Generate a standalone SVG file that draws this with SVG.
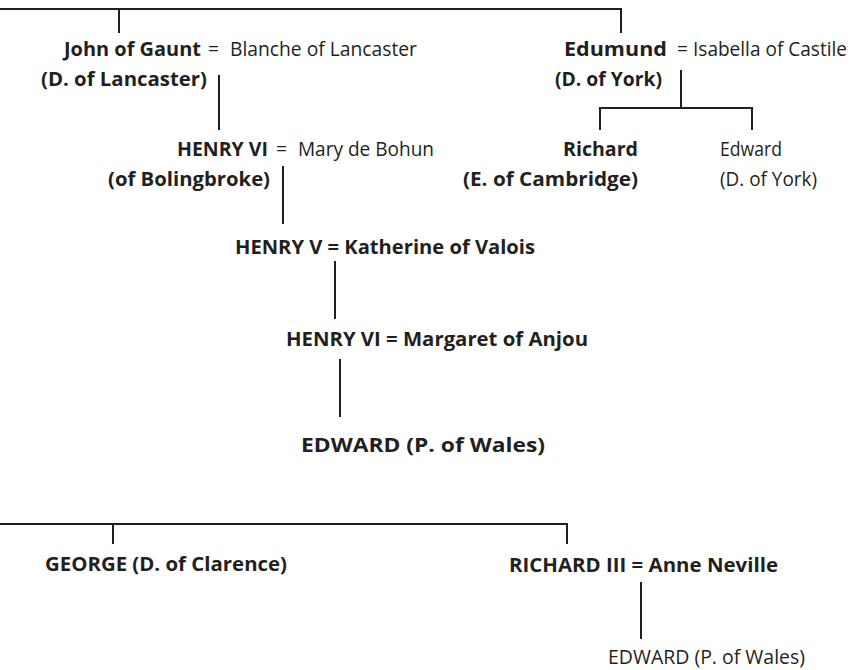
<svg xmlns="http://www.w3.org/2000/svg" width="855" height="670" viewBox="0 0 855 670">
<style>
text{font-family:"Open Sans","Liberation Sans",sans-serif;font-size:20px;fill:#231f20}
.b{font-weight:bold}
.r{font-weight:normal}
.ln{stroke:#231f20;stroke-width:2;fill:none}
</style>
<rect width="855" height="670" fill="#fff"/>
<g id="connectors" class="ln">
<path d="M0 9H621V33M119 9V33"/>
<path d="M219 75V130"/>
<path d="M681 70V108M600 130V108H752V130"/>
<path d="M283 166V224"/>
<path d="M335 261V319"/>
<path d="M340 359V417"/>
<path d="M0 524H567V544M113 524V544"/>
<path d="M641 582V639"/>
</g>
<g id="john">
<text class="b" x="64" y="56" textLength="137" lengthAdjust="spacingAndGlyphs">John of Gaunt</text>
<text class="r" x="208" y="56" textLength="11" lengthAdjust="spacingAndGlyphs">=</text>
<text class="r" x="230" y="56" textLength="187" lengthAdjust="spacingAndGlyphs">Blanche of Lancaster</text>
<text class="b" x="41" y="86" textLength="166" lengthAdjust="spacingAndGlyphs">(D. of Lancaster)</text>
</g>
<g id="edmund">
<text class="b" x="564" y="56" textLength="103" lengthAdjust="spacingAndGlyphs">Edumund</text>
<text class="r" x="677" y="56" textLength="11" lengthAdjust="spacingAndGlyphs">=</text>
<text class="r" x="693" y="56" textLength="154" lengthAdjust="spacingAndGlyphs">Isabella of Castile</text>
<text class="b" x="555" y="86" textLength="107" lengthAdjust="spacingAndGlyphs">(D. of York)</text>
</g>
<g id="henry4">
<text class="b" x="177" y="156" textLength="91" lengthAdjust="spacingAndGlyphs">HENRY VI</text>
<text class="r" x="276" y="156" textLength="11" lengthAdjust="spacingAndGlyphs">=</text>
<text class="r" x="298" y="156" textLength="136" lengthAdjust="spacingAndGlyphs">Mary de Bohun</text>
<text class="b" x="108" y="186" textLength="162" lengthAdjust="spacingAndGlyphs">(of Bolingbroke)</text>
</g>
<g id="richard">
<text class="b" x="563" y="156" textLength="75" lengthAdjust="spacingAndGlyphs">Richard</text>
<text class="b" x="463" y="186" textLength="175" lengthAdjust="spacingAndGlyphs">(E. of Cambridge)</text>
</g>
<g id="edward-york">
<text class="r" x="720" y="156" textLength="62" lengthAdjust="spacingAndGlyphs">Edward</text>
<text class="r" x="720" y="186" textLength="97" lengthAdjust="spacingAndGlyphs">(D. of York)</text>
</g>
<g id="henry5">
<text class="b" x="235" y="254" textLength="300" lengthAdjust="spacingAndGlyphs">HENRY V = Katherine of Valois</text>
</g>
<g id="henry6">
<text class="b" x="286" y="346" textLength="302" lengthAdjust="spacingAndGlyphs">HENRY VI = Margaret of Anjou</text>
</g>
<g id="edward-wales">
<text class="b" x="301" y="452" textLength="244" lengthAdjust="spacingAndGlyphs">EDWARD (P. of Wales)</text>
</g>
<g id="george">
<text class="b" x="45" y="571" textLength="242" lengthAdjust="spacingAndGlyphs">GEORGE (D. of Clarence)</text>
</g>
<g id="richard3">
<text class="b" x="509" y="572" textLength="269" lengthAdjust="spacingAndGlyphs">RICHARD III = Anne Neville</text>
</g>
<g id="edward-wales2">
<text class="r" x="608" y="664" textLength="197" lengthAdjust="spacingAndGlyphs">EDWARD (P. of Wales)</text>
</g>
</svg>
